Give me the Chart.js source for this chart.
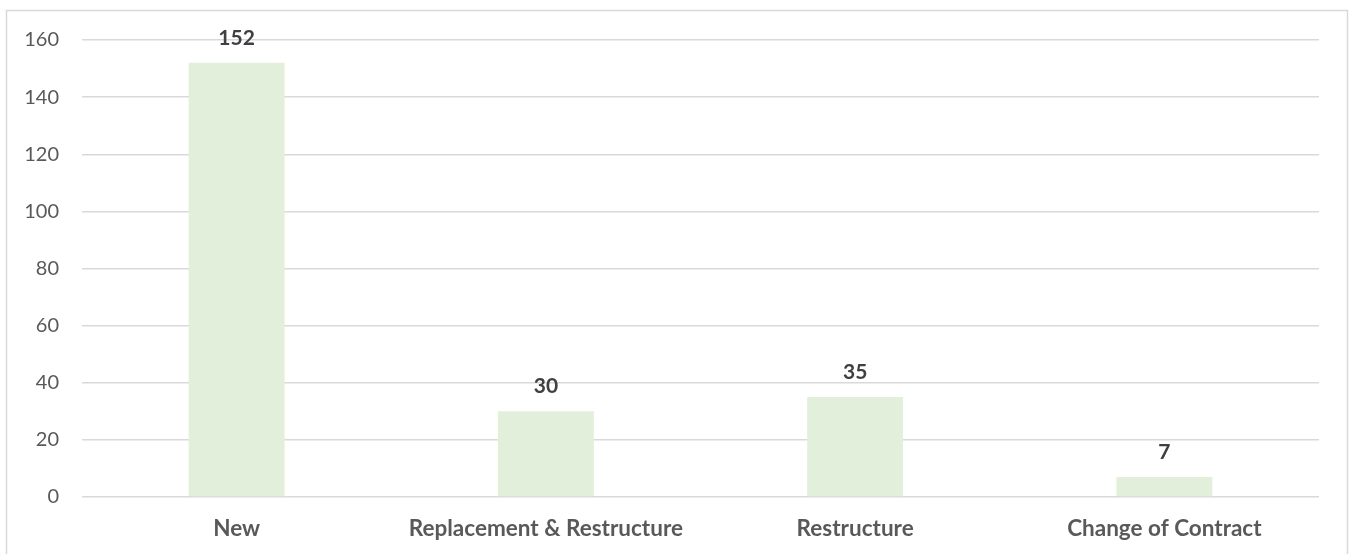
<!DOCTYPE html>
<html><head><meta charset="utf-8">
<script src="https://cdn.jsdelivr.net/npm/chart.js@4"></script>
<style>html,body{margin:0;padding:0;background:#fff;}#wrap{width:1354px;height:554px;}</style>
</head><body><div id="wrap"><canvas id="c" width="1354" height="554"></canvas></div>
<script>
const categories = ["New", "Replacement & Restructure", "Restructure", "Change of Contract"];
const values = [152, 30, 35, 7];
const yTicks = [0, 20, 40, 60, 80, 100, 120, 140, 160];

const FONT = 'Lato, "Open Sans", sans-serif';

const frame = {
  id: 'frame',
  beforeDraw(chart) {
    const ctx = chart.ctx;
    ctx.save();
    ctx.fillStyle = '#fff';
    ctx.fillRect(0, 0, chart.width, chart.height);
    ctx.strokeStyle = '#d9d9d9';
    ctx.lineWidth = 1.5;
    ctx.beginPath();
    ctx.moveTo(6.5, chart.height + 5);
    ctx.lineTo(6.5, 10.5);
    ctx.lineTo(1347.5, 10.5);
    ctx.lineTo(1347.5, chart.height + 5);
    ctx.stroke();
    ctx.restore();
  }
};
const labels = {
  id: 'vlabels',
  afterDatasetsDraw(chart) {
    const ctx = chart.ctx;
    const meta = chart.getDatasetMeta(0);
    ctx.save();
    ctx.font = 'bold 21px ' + FONT;
    ctx.fillStyle = '#404040';
    ctx.textAlign = 'center';
    ctx.textBaseline = 'middle';
    meta.data.forEach((bar, i) => {
      ctx.fillText(String(chart.data.datasets[0].data[i]), bar.x, bar.y - 25);
    });
    ctx.restore();
  }
};

new Chart(document.getElementById('c'), {
  type: 'bar',
  data: {
    labels: categories,
    datasets: [{
      data: values,
      backgroundColor: '#E2EFDA',
      categoryPercentage: 1,
      barPercentage: 0.31
    }]
  },
  options: {
    responsive: false,
    animation: false,
    layout: { padding: { left: 0, right: 35, top: 40, bottom: 0 } },
    plugins: { legend: { display: false }, tooltip: { enabled: false } },
    scales: {
      x: {
        grid: { display: false, drawTicks: false },
        border: { display: false },
        ticks: { color: '#595959', font: { family: FONT, size: 22.5, weight: 'bold' }, padding: 18 },
        afterFit(s) { s.height = 57; }
      },
      y: {
        min: 0, max: 160,
        afterBuildTicks(s) { s.ticks = yTicks.map(v => ({ value: v })); },
        grid: { color: '#d9d9d9', lineWidth: 1.5, drawTicks: false },
        border: { display: false },
        ticks: { color: '#595959', font: { family: FONT, size: 20 }, padding: 23 },
        afterFit(s) { s.width = 82; }
      }
    }
  },
  plugins: [frame, labels]
});
</script></body></html>
